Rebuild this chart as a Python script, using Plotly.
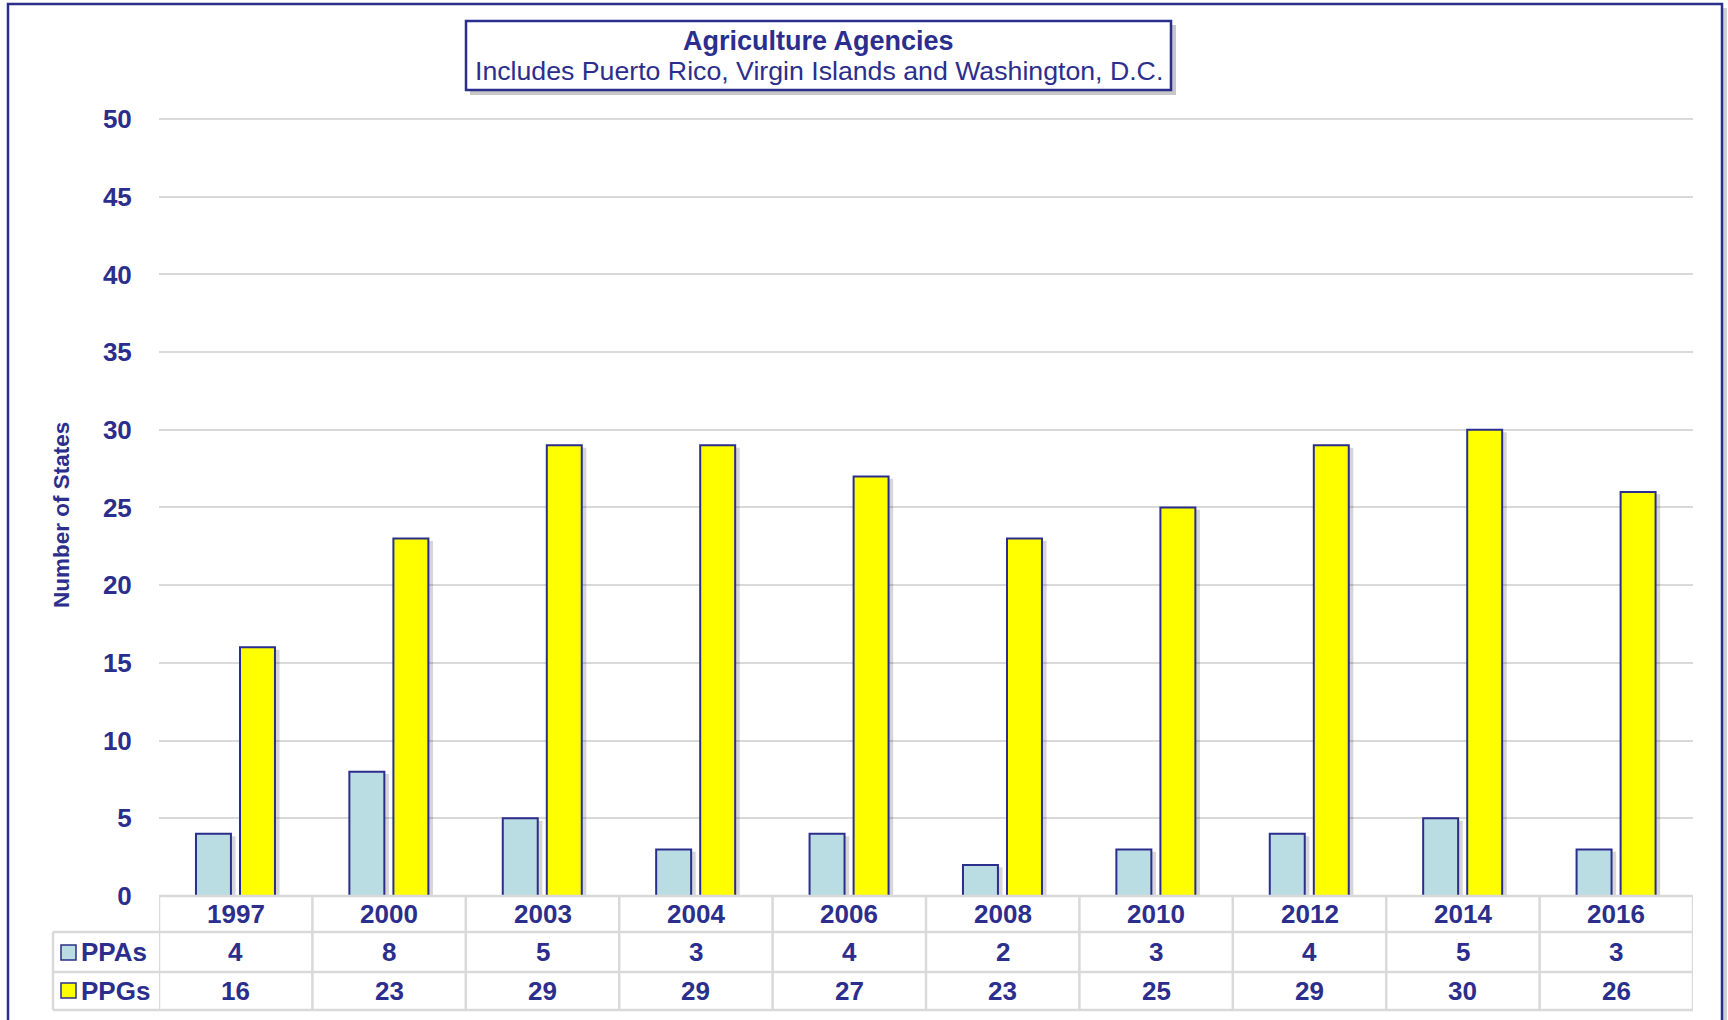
import plotly.graph_objects as go

W, H = 1728, 1020

years = ["1997", "2000", "2003", "2004", "2006", "2008", "2010", "2012", "2014", "2016"]
ppas = [4, 8, 5, 3, 4, 2, 3, 4, 5, 3]
ppgs = [16, 23, 29, 29, 27, 23, 25, 29, 30, 26]
series_names = ["PPAs", "PPGs"]
y_ticks = [0, 5, 10, 15, 20, 25, 30, 35, 40, 45, 50]

NAVY = "#2B2E8C"
BLUE = "#B9DDE2"
YELLOW = "#FFFF00"
GRID = "#D9D9D9"
FONT = "Arial, Liberation Sans, sans-serif"


def px(x):
    return x / W


def py(y):
    return 1 - y / H


# plot area in pixels
PL, PR, PB = 159, 1693, 896
Y_TOP_VAL = 50.1
PT = PB - (PB - 119) / 50 * Y_TOP_VAL
ROW1, ROW2, ROW3, ROW4 = 896, 932, 972, 1010
LEGL = 53

bar_w = 0.228
off_a = -0.259
off_b = 0.028
sh = 0.03

fig = go.Figure()
# shadows
for vals, off in [(ppas, off_a), (ppgs, off_b)]:
    fig.add_trace(go.Bar(x=years, y=vals, base=-0.15, width=bar_w, offset=off + sh,
                         marker=dict(color="rgba(0,0,0,0.16)", line=dict(width=0)),
                         showlegend=False, hoverinfo="skip"))
fig.add_trace(go.Bar(x=years, y=ppas, name=series_names[0], width=bar_w, offset=off_a,
                     marker=dict(color=BLUE, line=dict(color=NAVY, width=2))))
fig.add_trace(go.Bar(x=years, y=ppgs, name=series_names[1], width=bar_w, offset=off_b,
                     marker=dict(color=YELLOW, line=dict(color=NAVY, width=2))))

shapes = []
# outer frame
shapes.append(dict(type="line", xref="paper", yref="paper", x0=px(1725), x1=px(1725),
                   y0=-0.05, y1=py(8), line=dict(color="rgba(0,0,0,0.18)", width=4)))
shapes.append(dict(type="rect", xref="paper", yref="paper", x0=px(8), x1=px(1722),
                   y0=-0.05, y1=py(4), line=dict(color=NAVY, width=2.5)))
# title box with shadow
shapes.append(dict(type="rect", xref="paper", yref="paper", x0=px(470), x1=px(1176),
                   y0=py(95), y1=py(25), fillcolor="rgba(0,0,0,0.22)", line=dict(width=0)))
shapes.append(dict(type="rect", xref="paper", yref="paper", x0=px(466), x1=px(1171),
                   y0=py(90), y1=py(21), fillcolor="white", line=dict(color=NAVY, width=2.5)))

# table horizontal lines
shapes.append(dict(type="line", xref="paper", yref="paper", x0=px(PL), x1=px(PR),
                   y0=py(ROW1), y1=py(ROW1), line=dict(color=GRID, width=2.5)))
for r in (ROW2, ROW3, ROW4):
    shapes.append(dict(type="line", xref="paper", yref="paper", x0=px(LEGL), x1=px(PR),
                       y0=py(r), y1=py(r), line=dict(color=GRID, width=2.5)))
# table vertical lines at category boundaries
for i in range(len(years) + 1):
    shapes.append(dict(type="line", xref="x", yref="paper", x0=i - 0.5, x1=i - 0.5,
                       y0=py(ROW4), y1=py(ROW1), line=dict(color=GRID, width=2.5)))
shapes.append(dict(type="line", xref="paper", yref="paper", x0=px(LEGL), x1=px(LEGL),
                   y0=py(ROW4), y1=py(ROW2), line=dict(color=GRID, width=2.5)))
# legend keys
for (top, col) in [(945, BLUE), (983, YELLOW)]:
    shapes.append(dict(type="rect", xref="paper", yref="paper", x0=px(61), x1=px(76),
                       y0=py(top + 15), y1=py(top), fillcolor=col,
                       line=dict(color=NAVY, width=1.5)))

BOLD = dict(family=FONT, size=26, color=NAVY, weight="bold")

ann = []
ann.append(dict(text="<b>Agriculture Agencies</b>", x=px(818.5), y=py(41.5), xref="paper",
                yref="paper", showarrow=False, xanchor="center", yanchor="middle",
                font=dict(family=FONT, size=27, color=NAVY)))
ann.append(dict(text="Includes Puerto Rico, Virgin Islands and Washington, D.C.", x=px(818.5),
                y=py(71), xref="paper", yref="paper", showarrow=False, xanchor="center",
                yanchor="middle", font=dict(family=FONT, size=26.7, color=NAVY)))
ann.append(dict(text="<b>Number of States</b>", x=px(61), y=py(515), xref="paper", yref="paper",
                showarrow=False, textangle=-90, xanchor="center", yanchor="middle",
                font=dict(family=FONT, size=22.5, color=NAVY)))

row_y = [py(914), py(952), py(991)]
for i, yr in enumerate(years):
    for txt, yy in [(yr, row_y[0]), (str(ppas[i]), row_y[1]), (str(ppgs[i]), row_y[2])]:
        ann.append(dict(text=f"<b>{txt}</b>", x=i, y=yy, xref="x", yref="paper",
                        showarrow=False, xanchor="center", yanchor="middle", font=BOLD))
for name, yy in zip(series_names, row_y[1:]):
    ann.append(dict(text=f"<b>{name}</b>", x=px(79), y=yy, xref="paper", yref="paper",
                    showarrow=False, xanchor="left", yanchor="middle", font=BOLD))

fig.update_layout(
    width=W, height=H, margin=dict(l=0, r=0, t=0, b=0, autoexpand=False),
    paper_bgcolor="white", plot_bgcolor="white",
    barmode="overlay", showlegend=False,
    shapes=shapes, annotations=ann,
    xaxis=dict(domain=[px(PL), px(PR)], showticklabels=False, showgrid=False,
               zeroline=False, showline=False, ticks="", range=[-0.5, len(years) - 0.5],
               type="category", automargin=False),
    yaxis=dict(domain=[py(PB), py(PT)], range=[0, Y_TOP_VAL], tickvals=y_ticks,
               showgrid=True, gridcolor=GRID, gridwidth=2, zeroline=False, showline=False,
               ticks="outside", ticklen=0, ticklabelstandoff=21, automargin=False,
               tickfont=BOLD),
)

fig.write_html("out.html", config={"displayModeBar": False},
               post_script="document.body.style.margin='0';document.body.style.overflow='hidden';")
